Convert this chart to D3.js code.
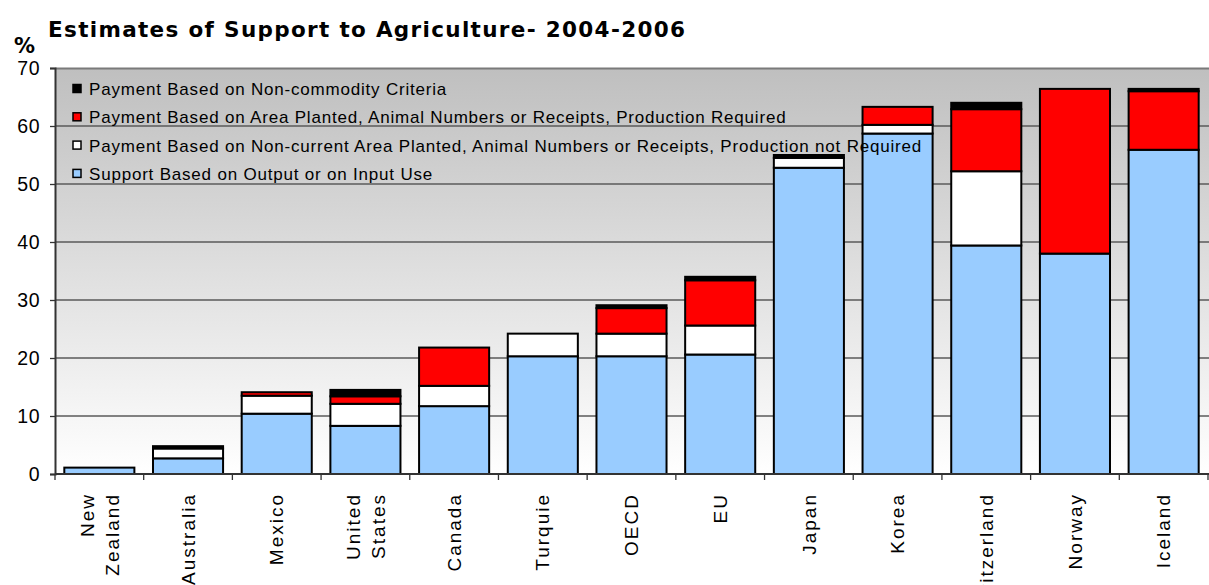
<!DOCTYPE html>
<html>
<head>
<meta charset="utf-8">
<script src="https://cdn.jsdelivr.net/npm/d3@7"></script>
<style>
  body { margin: 0; background: #fff; }
  svg { display: block; }
</style>
</head>
<body>
<svg id="chart" width="1209" height="585"></svg>
<script>
// ---- data ----
const categories = ["New Zealand", "Australia", "Mexico", "United States", "Canada", "Turquie", "OECD", "EU", "Japan", "Korea", "Switzerland", "Norway", "Iceland"];
const outputInput   = [1.1, 2.7, 10.4, 8.3, 11.7, 20.3, 20.3, 20.6, 52.8, 58.7, 39.4, 38.0, 55.9];
const nonCurrent    = [0,   1.7, 3.1,  3.8, 3.5,  3.9,  3.9,  5.0,  1.7,  1.5,  12.8, 0,    0];
const areaRequired  = [0,   0,   0.6,  1.3, 6.6,  0,    4.4,  7.8,  0,    3.1,  10.7, 28.4, 10.1];
const nonCommodity  = [0,   0.4, 0,    1.1, 0,    0,    0.5,  0.6,  0.5,  0,    1.1,  0,    0.4];
const seriesNames = [
  "Support Based on Output or on Input Use",
  "Payment Based on Non-current Area Planted, Animal Numbers or Receipts, Production not Required",
  "Payment Based on Area Planted, Animal Numbers or Receipts, Production Required",
  "Payment Based on Non-commodity Criteria"
];
const seriesColors = ["#99CCFF", "#FFFFFF", "#FF0000", "#000000"];
const yTicks = [0, 10, 20, 30, 40, 50, 60, 70];
const titleText = "Estimates of Support to Agriculture- 2004-2006";

(function () {
// ---- layout ----
const svg = d3.select("#chart");
const pl = 55, pr = 1208, pt = 68, pb = 474;

const x = d3.scaleBand().domain(categories).range([pl, pr]).paddingInner(0.21).paddingOuter(0.105);
const y = d3.scaleLinear().domain([0, 70]).range([pb, pt]);

// background gradient
const defs = svg.append("defs");
const grad = defs.append("linearGradient").attr("id", "bg").attr("x1", 0).attr("y1", 0).attr("x2", 0).attr("y2", 1);
grad.append("stop").attr("offset", "0%").attr("stop-color", "#bfbfbf");
grad.append("stop").attr("offset", "100%").attr("stop-color", "#ffffff");
svg.append("rect").attr("x", pl).attr("y", pt).attr("width", 1209 - pl).attr("height", pb - pt).attr("fill", "url(#bg)");
svg.append("line").attr("x1", pl).attr("x2", 1209).attr("y1", pt + 0.5).attr("y2", pt + 0.5).attr("stroke", "#7a7a7a").attr("stroke-width", 2);

// gridlines
svg.append("g").selectAll("line").data(yTicks.filter(d => d > 0 && d < 70)).join("line")
  .attr("x1", pl).attr("x2", 1209)
  .attr("y1", d => y(d)).attr("y2", d => y(d))
  .attr("stroke", "#5a5a5a").attr("stroke-width", 1.3);

// stacked data
const rows = categories.map((c, i) => ({ cat: c, s0: outputInput[i], s1: nonCurrent[i], s2: areaRequired[i], s3: nonCommodity[i] }));
const stack = d3.stack().keys(["s0", "s1", "s2", "s3"])(rows);

const bars = svg.append("g");
stack.forEach((layer, k) => {
  bars.append("g").selectAll("rect").data(layer.filter(d => d[1] - d[0] > 0)).join("rect")
    .attr("x", d => x(d.data.cat))
    .attr("width", x.bandwidth())
    .attr("y", d => y(d[1]))
    .attr("height", d => y(d[0]) - y(d[1]))
    .attr("fill", seriesColors[k])
    .attr("stroke", "#000").attr("stroke-width", 2);
});

// y axis
const yAxis = svg.append("g").attr("transform", `translate(${pl},0)`)
  .call(d3.axisLeft(y).tickValues(yTicks).tickSize(5).tickPadding(10));
yAxis.select(".domain").attr("stroke", "#333").attr("stroke-width", 2);
yAxis.selectAll(".tick line").attr("stroke", "#333").attr("stroke-width", 1.3);
yAxis.selectAll(".tick text").attr("font-family", "Liberation Sans, Arial, sans-serif").attr("font-size", 19.5)
  .attr("letter-spacing", 0.5).attr("fill", "#000");

// x axis line and ticks at band boundaries
svg.append("line").attr("x1", pl).attr("x2", 1209).attr("y1", pb).attr("y2", pb).attr("stroke", "#333").attr("stroke-width", 2);
const step = x.step();
const bounds = categories.map(c => x(c) - step * x.paddingInner() / 2).concat([x(categories[categories.length - 1]) + x.bandwidth() + step * x.paddingInner() / 2]);
svg.append("g").selectAll("line").data(bounds).join("line")
  .attr("x1", d => d).attr("x2", d => d).attr("y1", pb).attr("y2", pb + 6)
  .attr("stroke", "#333").attr("stroke-width", 1.3);

// x labels
const xl = svg.append("g");
categories.forEach(c => {
  const cx = x(c) + x.bandwidth() / 2;
  const parts = (c === "New Zealand" || c === "United States") ? c.split(" ") : [c];
  parts.forEach((p, j) => {
    const off = parts.length === 1 ? 0 : (j === 0 ? -12.5 : 12.5);
    xl.append("text")
      .attr("transform", `translate(${cx + off},493) rotate(-90)`)
      .attr("text-anchor", "end").attr("dy", "0.35em")
      .attr("font-family", "Liberation Sans, Arial, sans-serif").attr("font-size", 19)
      .attr("letter-spacing", 2)
      .attr("fill", "#000").text(p);
  });
});

// title and unit
svg.append("text").attr("x", 48).attr("y", 37)
  .attr("font-family", "DejaVu Sans, Verdana, sans-serif").attr("font-weight", "bold").attr("font-size", 21.5)
  .attr("textLength", 637).attr("lengthAdjust", "spacing")
  .attr("fill", "#000").text(titleText);
svg.append("text").attr("x", 14).attr("y", 53)
  .attr("font-family", "DejaVu Sans, Verdana, sans-serif").attr("font-weight", "bold").attr("font-size", 21)
  .attr("fill", "#000").text("%");

// legend
const legendOrder = [3, 2, 1, 0];
const lg = svg.append("g");
legendOrder.forEach((k, i) => {
  const ly = 89 + i * 28.3;
  lg.append("rect").attr("x", 73).attr("y", ly - 4.5).attr("width", 8).attr("height", 8)
    .attr("fill", seriesColors[k]).attr("stroke", "#000").attr("stroke-width", 1.5);
  lg.append("text").attr("x", 89).attr("y", ly).attr("dy", "0.35em")
    .attr("font-family", "Liberation Sans, Arial, sans-serif").attr("font-size", 17)
    .attr("letter-spacing", 0.8)
    .attr("fill", "#000").text(seriesNames[k]);
});
})();
</script>
</body>
</html>
